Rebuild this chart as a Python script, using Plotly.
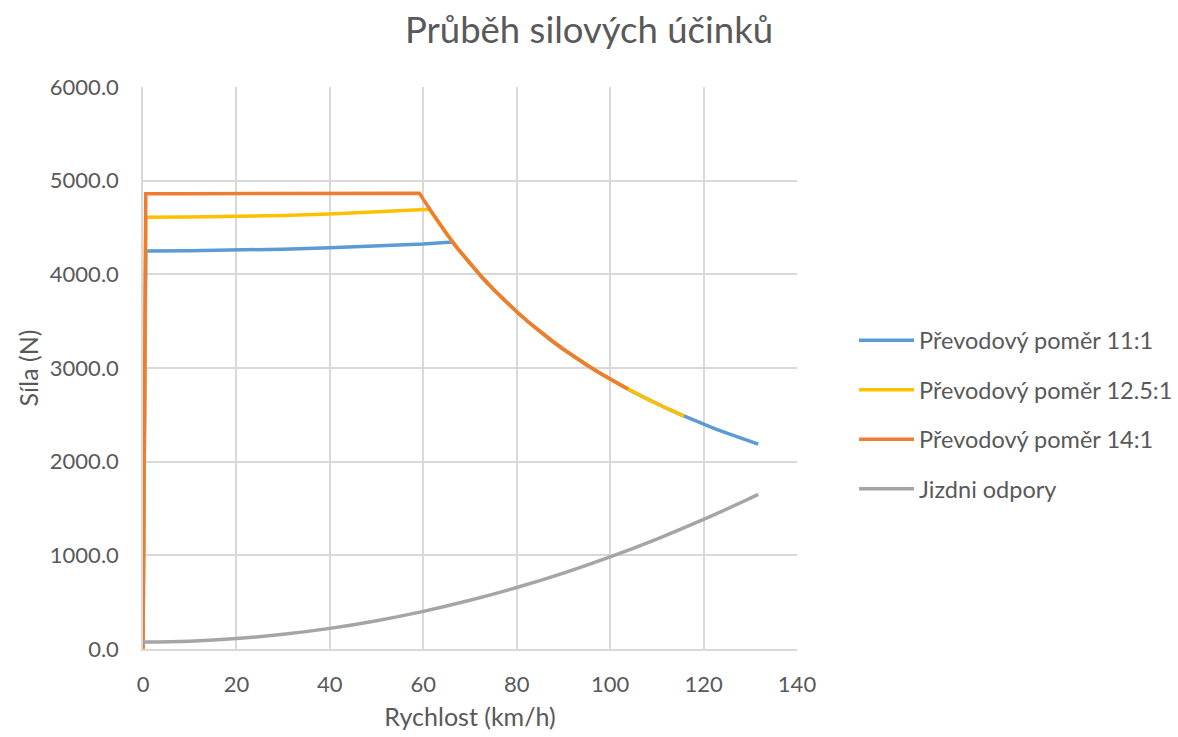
import plotly.graph_objects as go

# Speeds (km/h) and forces (N)
v_11 = [0, 0.6, 10, 20, 30, 40, 50, 60, 66.2, 67.5, 70, 72.5, 75, 77.5, 80, 82.5, 85, 87.5, 90, 92.5, 95, 97.5,
        100, 102.5, 105, 107.5, 110, 112.5, 115, 117.5, 120, 122.5, 125, 127.5, 130, 131.7]
f_11 = [0, 4250, 4252, 4258, 4269, 4283, 4302, 4325, 4345, 4267, 4114, 3972, 3840, 3716, 3600, 3491, 3388, 3291,
        3200, 3114, 3032, 2954, 2880, 2810, 2743, 2679, 2618, 2560, 2504, 2451, 2400, 2351, 2304, 2259, 2215, 2187]

v_125 = [0, 0.6, 10, 20, 30, 40, 50, 61.3, 62.5, 65, 67.5, 70, 72.5, 75, 77.5, 80, 82.5, 85, 87.5, 90, 92.5, 95,
         97.5, 100, 102.5, 105, 107.5, 110, 112.5, 115, 115.8]
f_125 = [0, 4610, 4612, 4619, 4629, 4644, 4664, 4695, 4608, 4431, 4267, 4114, 3972, 3840, 3716, 3600, 3491, 3388,
         3291, 3200, 3114, 3032, 2954, 2880, 2810, 2743, 2679, 2618, 2560, 2504, 2487]

v_14 = [0, 0.6, 10, 20, 30, 40, 50, 59.2, 60, 62.5, 65, 67.5, 70, 72.5, 75, 77.5, 80, 82.5, 85, 87.5, 90, 92.5, 95,
        97.5, 100, 102.5, 103.8]
f_14 = [0, 4860, 4860, 4862, 4863, 4865, 4866, 4866, 4800, 4608, 4431, 4267, 4114, 3972, 3840, 3716, 3600, 3491,
        3388, 3291, 3200, 3114, 3032, 2954, 2880, 2810, 2775]

v_odp = [0, 10, 20, 30, 40, 50, 60, 70, 80, 90, 100, 110, 120, 130, 131.7]
f_odp = [75, 84, 111, 157, 220, 302, 402, 520, 656, 810, 983, 1174, 1383, 1610, 1650]

names = ["Převodový poměr 11:1", "Převodový poměr 12.5:1", "Převodový poměr 14:1", "Jizdni odpory"]
colors = ["#5B9BD5", "#FFC000", "#ED7D31", "#A5A5A5"]
shapes = ["linear", "linear", "linear", "spline"]
x_ticks = [0, 20, 40, 60, 80, 100, 120, 140]

font = "Lato, 'Open Sans', sans-serif"
txt = "#595959"
fig = go.Figure()
for i, (xs, ys) in enumerate([(v_11, f_11), (v_125, f_125), (v_14, f_14), (v_odp, f_odp)]):
    fig.add_trace(go.Scatter(x=xs, y=ys, mode="lines", name=names[i],
                             legendgroup=str(i),
                             line=dict(color=colors[i], width=3.5, shape=shapes[i]),
                             cliponaxis=False))

fig.update_layout(
    width=1178, height=737,
    paper_bgcolor="white", plot_bgcolor="white",
    margin=dict(l=143, r=381, t=87, b=88, autoexpand=False),
    title=dict(text="Průběh silových účinků", x=0.5, xref="container", xanchor="center",
               y=0.959, yanchor="middle",
               font=dict(family=font, size=36.5, color=txt)),
    font=dict(family=font, color=txt),
    legend=dict(x=0.725, xref="container", xanchor="left",
                y=0.437, yref="container", yanchor="middle",
                font=dict(family=font, size=23.5, color=txt),
                tracegroupgap=16, itemwidth=55),
    xaxis=dict(range=[0, 140], tickvals=x_ticks, showgrid=True, gridcolor="#D9D9D9", gridwidth=1.5,
               zeroline=False, showline=True, linecolor="#D9D9D9", linewidth=1.5,
               ticks="", tickfont=dict(size=22, color=txt), ticklabelstandoff=15,
               title=dict(text="Rychlost (km/h)", font=dict(size=25, color=txt), standoff=12)),
    yaxis=dict(range=[0, 6000], dtick=1000, tickformat=".1f", showgrid=True, gridcolor="#D9D9D9", gridwidth=1.5,
               zeroline=False, showline=True, linecolor="#D9D9D9", linewidth=1.5,
               ticks="", tickfont=dict(size=22, color=txt), ticklabelstandoff=18,
               title=dict(text="Síla (N)", font=dict(size=25, color=txt), standoff=4)),
)

fig.write_html("out.html")
